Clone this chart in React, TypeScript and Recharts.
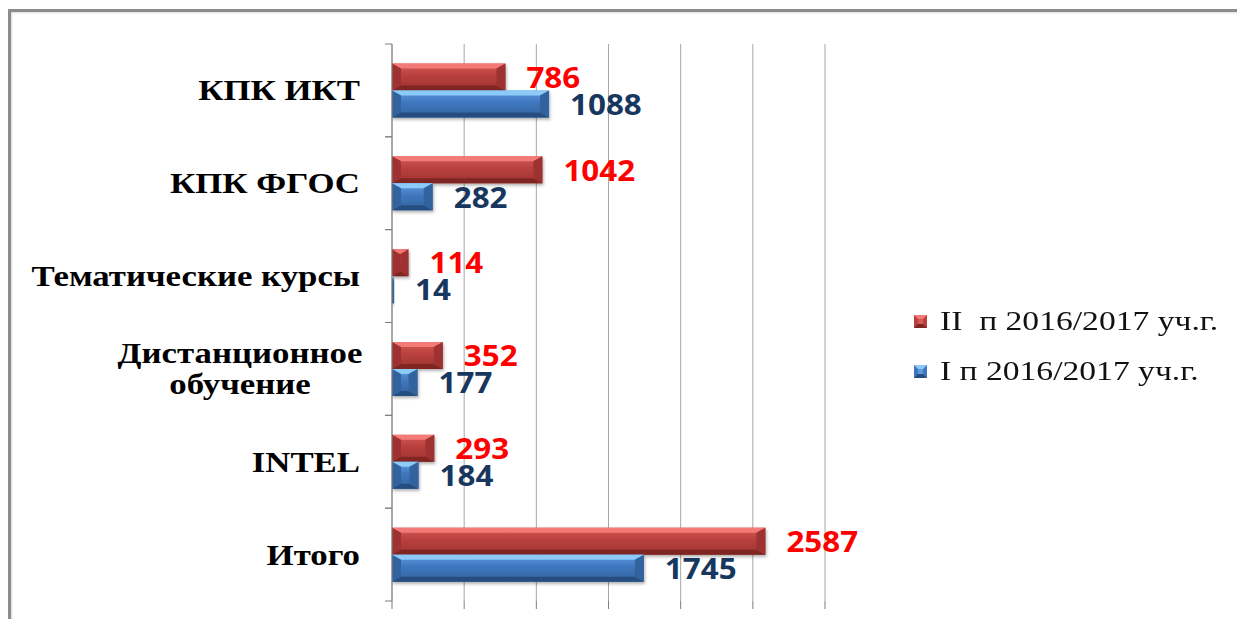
import {
  Bar,
  BarChart,
  CartesianGrid,
  LabelList,
  Legend,
  XAxis,
  YAxis,
} from "recharts"

const categories = [
  "КПК ИКТ",
  "КПК ФГОС",
  "Тематические курсы",
  "Дистанционное обучение",
  "INTEL",
  "Итого",
]
const secondHalf = [786, 1042, 114, 352, 293, 2587]
const firstHalf = [1088, 282, 14, 177, 184, 1745]
const xTicks = [0, 500, 1000, 1500, 2000, 2500, 3000]

const seriesKeys = ["second", "first"] as const
const seriesNames = {
  second: "II  п 2016/2017 уч.г.",
  first: "I п 2016/2017 уч.г.",
}

const data = categories.map((name, i) => ({
  name,
  second: secondHalf[i],
  first: firstHalf[i],
}))

const palettes = {
  second: {
    light: "#f47a78",
    top: "#d65a57",
    mid: "#b8403d",
    side: "#9e3331",
    dark: "#7f2624",
    label: "#ff0000",
  },
  first: {
    light: "#8ccaf8",
    top: "#5d9be0",
    mid: "#3f76bd",
    side: "#33649f",
    dark: "#264d80",
    label: "#17375e",
  },
}

type Pal = typeof palettes.second

// the source picture is a bit stretched sideways, so text gets a scaleX
const STRETCH = 1.2

// bar with beveled edges, like the old excel 3d look
function bevelShape(pal: Pal, id: string) {
  return (props: any) => {
    const { x, y, width, height } = props
    if (!width || width <= 0) return <g />
    const w = width
    const h = height
    const bv = Math.min(5, h / 4)
    const bh = Math.min(9, w / 2)
    return (
      <g filter="url(#barShadow)">
        <rect x={x} y={y} width={w} height={h} fill={`url(#body-${id})`} />
        <polygon
          points={`${x},${y} ${x + w},${y} ${x + w - bh},${y + bv} ${x + bh},${y + bv}`}
          fill={pal.light}
        />
        <polygon
          points={`${x},${y + h} ${x + w},${y + h} ${x + w - bh},${y + h - bv} ${x + bh},${y + h - bv}`}
          fill={pal.dark}
        />
        <polygon
          points={`${x},${y} ${x + bh},${y + bv} ${x + bh},${y + h - bv} ${x},${y + h}`}
          fill={pal.side}
        />
        <polygon
          points={`${x + w},${y} ${x + w - bh},${y + bv} ${x + w - bh},${y + h - bv} ${x + w},${y + h}`}
          fill={pal.side}
        />
      </g>
    )
  }
}

function valueLabel(color: string) {
  return (props: any) => {
    const { x, y, width, height, value } = props
    return (
      <g transform={`translate(${x + width + 21},${y + height / 2}) scale(1.12,1)`}>
        <text
          x={0}
          y={0}
          dominantBaseline="central"
          fill={color}
          fontFamily="'Open Sans', 'Liberation Sans', sans-serif"
          fontWeight={700}
          fontSize={28}
        >
          {value}
        </text>
      </g>
    )
  }
}

const TICK_SIZE = 7
const TICK_MARGIN = 25

function CategoryTick(props: any) {
  const { x, y, payload } = props
  const half = payload?.offset ?? 0
  const axisX = x + TICK_SIZE + TICK_MARGIN
  const text = String(payload.value)
  const lines = text.length > 20 ? text.split(" ") : [text]
  const lineH = 31
  const startY = y - ((lines.length - 1) * lineH) / 2
  const centerX = -100
  return (
    <g>
      <line x1={axisX - TICK_SIZE} x2={axisX} y1={y - half} y2={y - half} stroke="#7f7f7f" />
      <line x1={axisX - TICK_SIZE} x2={axisX} y1={y + half} y2={y + half} stroke="#7f7f7f" />
      <g transform={`translate(${x},${startY}) scale(${STRETCH},1)`}>
        {lines.map((ln, i) => (
          <text
            key={i}
            x={lines.length > 1 ? centerX : 0}
            y={i * lineH}
            textAnchor={lines.length > 1 ? "middle" : "end"}
            dominantBaseline="central"
            fill="#000"
            fontFamily="'Liberation Serif', 'Times New Roman', serif"
            fontWeight={700}
            fontSize={29}
          >
            {ln}
          </text>
        ))}
      </g>
    </g>
  )
}

function LegendMarker({ pal }: { pal: Pal }) {
  return (
    <svg width={13} height={13} style={{ marginRight: 13, flex: "none" }}>
      <rect x={0} y={0} width={13} height={13} fill={pal.mid} />
      <polygon points="0,0 13,0 9,4 4,4" fill={pal.light} />
      <polygon points="0,13 13,13 9,9 4,9" fill={pal.dark} />
      <rect x={4} y={4} width={5} height={5} fill={pal.top} />
    </svg>
  )
}

function LegendBox() {
  return (
    <div style={{ display: "flex", flexDirection: "column", gap: 20 }}>
      {seriesKeys.map((key) => (
        <div key={key} style={{ display: "flex", alignItems: "center", height: 30 }}>
          <LegendMarker pal={palettes[key]} />
          <span
            style={{
              display: "inline-block",
              fontFamily: "'Liberation Serif', 'Times New Roman', serif",
              fontSize: 28,
              color: "#111",
              whiteSpace: "pre",
              transform: `scaleX(${STRETCH})`,
              transformOrigin: "left center",
            }}
          >
            {seriesNames[key]}
          </span>
        </div>
      ))}
    </div>
  )
}

export default function App() {
  return (
    <div
      style={{
        position: "absolute",
        left: 0,
        top: 0,
        width: 1237,
        height: 619,
        overflow: "hidden",
        background: "#fff",
      }}
    >
      <div
        style={{
          position: "absolute",
          left: 8,
          top: 9,
          width: 1400,
          height: 800,
          borderLeft: "3px solid #8c8c8c",
          borderTop: "3px solid #8c8c8c",
          boxShadow: "inset 1px 1px 2px rgba(0,0,0,0.15)",
        }}
      />
      <BarChart
        width={1237}
        height={619}
        data={data}
        layout="vertical"
        margin={{ top: 44, right: 412, left: 0, bottom: 0 }}
        barCategoryGap="21%"
        barGap={0}
        style={{ position: "absolute", left: 0, top: 0 }}
      >
        <defs>
          <filter id="barShadow" x="-5%" y="-20%" width="115%" height="160%">
            <feDropShadow dx={1} dy={2} stdDeviation={1.5} floodColor="#000" floodOpacity={0.3} />
          </filter>
          {seriesKeys.map((k) => (
            <linearGradient key={k} id={`body-${k}`} x1="0" y1="0" x2="0" y2="1">
              <stop offset="0%" stopColor={palettes[k].top} />
              <stop offset="45%" stopColor={palettes[k].mid} />
              <stop offset="100%" stopColor={palettes[k].side} />
            </linearGradient>
          ))}
        </defs>
        <CartesianGrid horizontal={false} stroke="#a6a6a6" />
        <XAxis
          type="number"
          domain={[0, 3000]}
          ticks={xTicks}
          height={18}
          axisLine={false}
          tickSize={8}
          tickLine={{ stroke: "#7f7f7f" }}
          tick={() => <g />}
        />
        <YAxis
          type="category"
          dataKey="name"
          width={392}
          axisLine={{ stroke: "#7f7f7f" }}
          tickLine={false}
          tickSize={TICK_SIZE}
          tickMargin={TICK_MARGIN}
          tick={<CategoryTick />}
          interval={0}
        />
        <Legend
          layout="vertical"
          verticalAlign="middle"
          align="center"
          content={<LegendBox />}
          wrapperStyle={{ position: "absolute", left: 914, top: 306, width: 320 }}
        />
        <Bar
          dataKey="second"
          name={seriesNames.second}
          fill={palettes.second.mid}
          shape={bevelShape(palettes.second, "second")}
          isAnimationActive={false}
        >
          <LabelList dataKey="second" content={valueLabel(palettes.second.label)} />
        </Bar>
        <Bar
          dataKey="first"
          name={seriesNames.first}
          fill={palettes.first.mid}
          shape={bevelShape(palettes.first, "first")}
          isAnimationActive={false}
        >
          <LabelList dataKey="first" content={valueLabel(palettes.first.label)} />
        </Bar>
      </BarChart>
    </div>
  )
}
